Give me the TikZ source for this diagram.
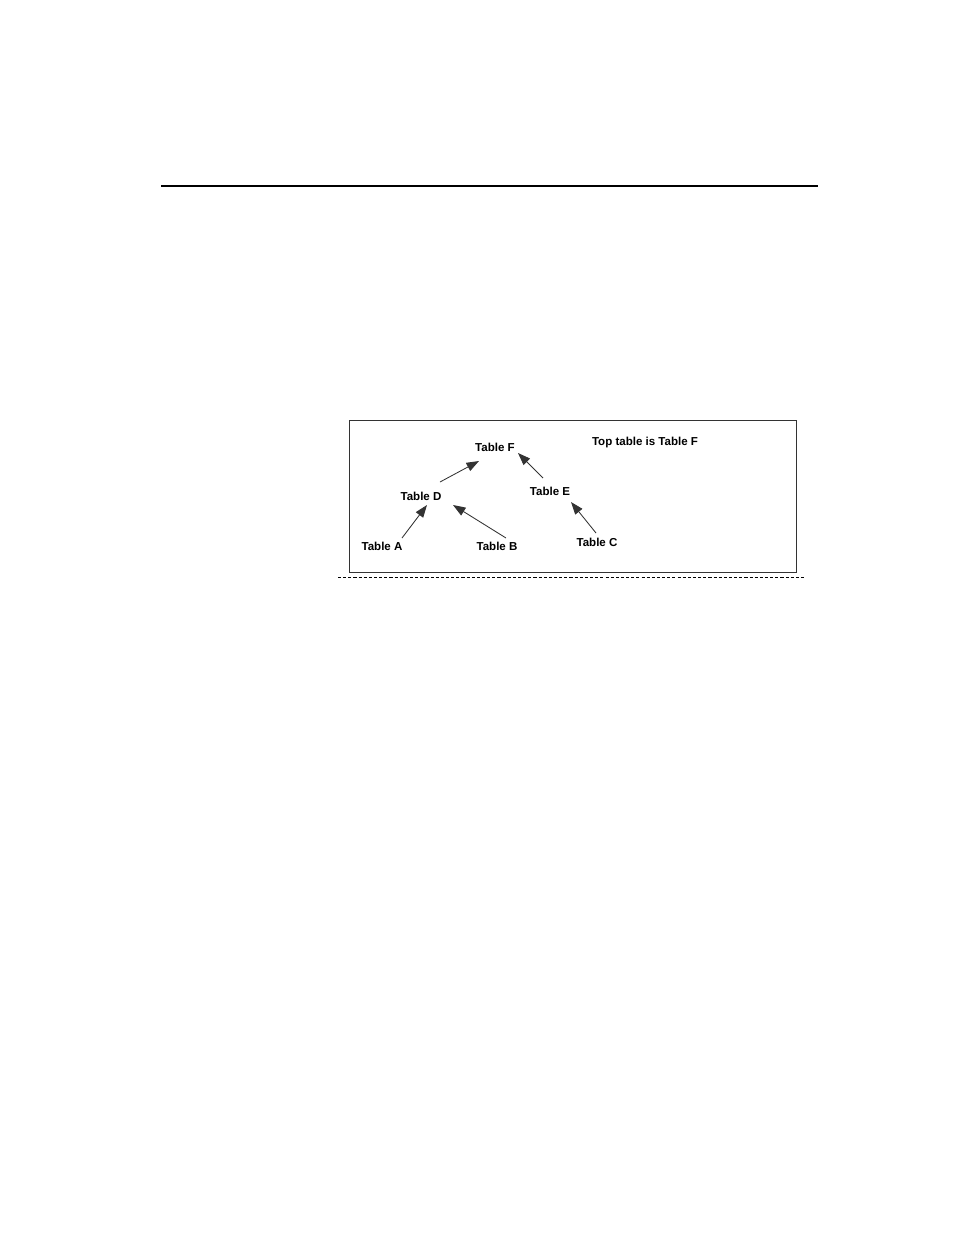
\documentclass[tikz,border=0pt]{standalone}
\usepackage{fontspec}
\setmainfont{Liberation Sans}
\usetikzlibrary{arrows.meta}

\tikzset{
    tbl/.style={font=\bfseries\fontsize{7.4pt}{8pt}\selectfont, inner sep=1pt},
    arr/.style={-{Triangle[length=8pt,width=5.8pt]}, black!80, line width=0.55pt}
}

\begin{document}
\begin{tikzpicture}[x=0.6415pt, y=-0.6415pt]
                \useasboundingbox (0, 0) rectangle (954, 1235);

                \draw[line width=0.9pt] (161, 186) -- (818, 186);

                \draw[black!80, line width=0.6pt] (349, 420) rectangle (796, 572);
                \draw[dashed, dash pattern=on 2pt off 1.3pt, line width=0.4pt] (338, 577) -- (806, 577);

                \node[tbl] (tF) at (495, 447) {Table F};
                \node[tbl] (top) at (645, 443) {Top table is Table F};
                \node[tbl] (tD) at (421, 496) {Table D};
                \node[tbl] (tE) at (550, 491) {Table E};
                \node[tbl] (tA) at (382, 546) {Table A};
                \node[tbl] (tB) at (497, 546) {Table B};
                \node[tbl] (tC) at (597, 542) {Table C};

                \draw[arr] ([shift={(20, -8)}]tA.center) -- ([shift={(6, 9)}]tD.center);
                \draw[arr] ([shift={(9, -8)}]tB.center) -- ([shift={(32, 9)}]tD.center);
                \draw[arr] ([shift={(19, -14)}]tD.center) -- ([shift={(-16, 14)}]tF.center);
                \draw[arr] ([shift={(-7, -13)}]tE.center) -- ([shift={(23, 6)}]tF.center);
                \draw[arr] ([shift={(-1, -9)}]tC.center) -- ([shift={(21, 11)}]tE.center);

            \end{tikzpicture}
\end{document}
